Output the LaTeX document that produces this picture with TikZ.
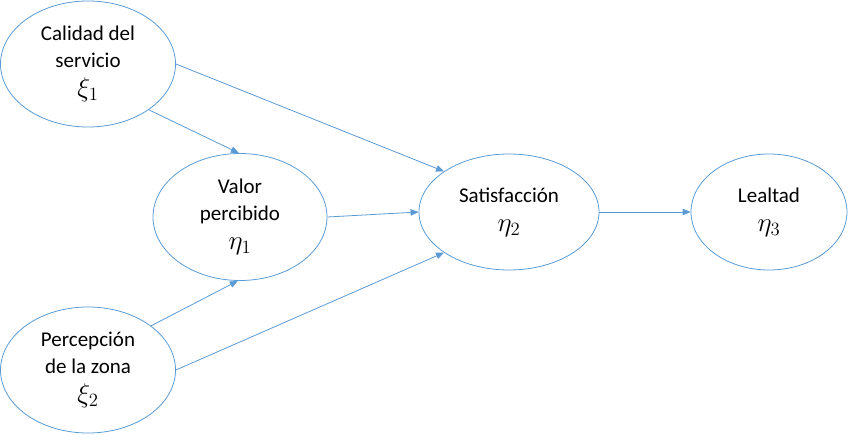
\documentclass[tikz,border=0pt]{standalone}
\usepackage{fontspec}
\usepackage{graphicx}
\setmainfont{Carlito}
\usetikzlibrary{shapes.geometric,arrows.meta}
\definecolor{lblue}{RGB}{91,155,213}
\newcommand{\latsym}[1]{\scalebox{1.3}{$#1$}}
\begin{document}
\begin{tikzpicture}[x=1pt,y=-1pt,
  lat/.style={ellipse,draw=lblue,line width=0.8pt,inner sep=0pt,align=center,
    font=\fontsize{21}{27}\selectfont},
  conn/.style={draw=lblue,line width=0.8pt,-{Triangle[length=8pt,width=6.5pt]}}]
\useasboundingbox (0,0) rectangle (850,435);
\node[lat,minimum width=175pt,minimum height=126pt] (cal) at (88,64) {Calidad del\\servicio\\[2pt]\latsym{\xi_1}};
\node[lat,minimum width=175pt,minimum height=126pt] (per) at (88,370) {Percepción\\de la zona\\[2pt]\latsym{\xi_2}};
\node[lat,minimum width=174pt,minimum height=127pt] (val) at (240,217) {Valor\\percibido\\[2pt]\latsym{\eta_1}};
\node[lat,minimum width=180pt,minimum height=116pt] (sat) at (509,212) {Satisfacción\\[2pt]\latsym{\eta_2}};
\node[lat,minimum width=156pt,minimum height=116pt] (lea) at (769,212) {Lealtad\\[2pt]\latsym{\eta_3}};
\draw[conn] (cal.east) -- (sat.148);
\draw[conn] (cal.-37) -- (val.91);
\draw[conn] (per.35) -- (val.-92);
\draw[conn] (per.east) -- (sat.-148);
\draw[conn] (val.east) -- (sat.west);
\draw[conn] (sat.east) -- (lea.west);
\end{tikzpicture}
\end{document}
